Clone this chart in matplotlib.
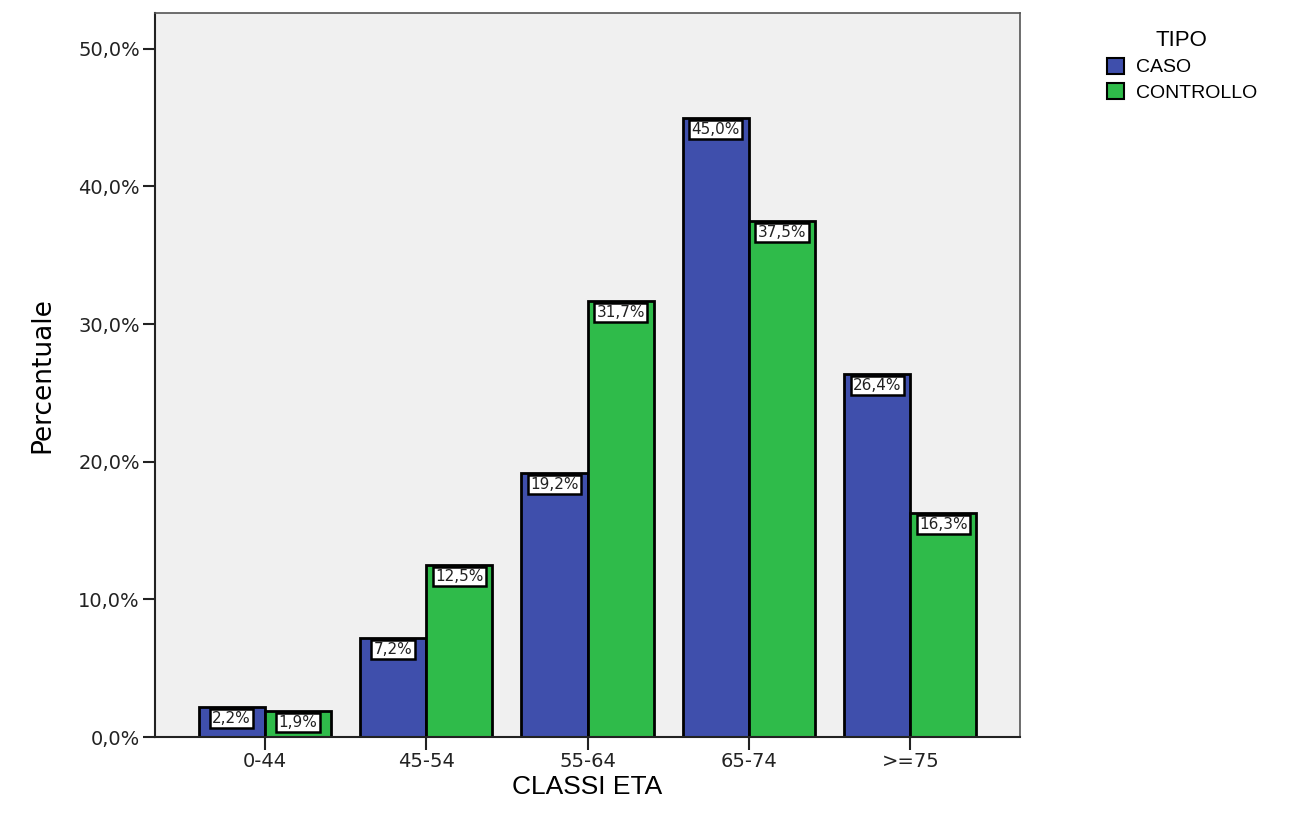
import matplotlib.pyplot as plt
import numpy as np
from matplotlib.patches import Patch

classi = ["0-44", "45-54", "55-64", "65-74", ">=75"]
caso = [2.2, 7.2, 19.2, 45.0, 26.4]
controllo = [1.9, 12.5, 31.7, 37.5, 16.3]
serie = ["CASO", "CONTROLLO"]
yticks = [0, 10, 20, 30, 40, 50]

BLUE = "#3f4fac"
GREEN = "#2fbb4a"


def fmt(v):
    return f"{v:.1f}".replace(".", ",") + "%"


fig = plt.figure(figsize=(12.92, 8.16), dpi=100)
ax = fig.add_axes([0.12, 0.0968, 0.6695, 0.8872])
ax.set_facecolor("#f0f0f0")

x = np.arange(len(classi))
w = 0.41
b1 = ax.bar(x - w / 2, caso, w, color=BLUE, edgecolor="black", linewidth=2)
b2 = ax.bar(x + w / 2, controllo, w, color=GREEN, edgecolor="black", linewidth=2)

for bars, vals in ((b1, caso), (b2, controllo)):
    for rect, v in zip(bars, vals):
        ax.annotate(fmt(v), xy=(rect.get_x() + rect.get_width() / 2, v),
                    xytext=(0, -3), textcoords="offset points",
                    ha="center", va="top", fontsize=11, color="#222222",
                    bbox=dict(boxstyle="square,pad=0.15", fc="white",
                              ec="black", lw=1.8))

ax.set_xlim(-0.68, 4.68)
ax.set_ylim(0, 52.6)
ax.set_xticks(x)
ax.set_xticklabels(classi, fontsize=14, color="#222222")
ax.set_yticks(yticks)
ax.set_yticklabels([fmt(t) for t in yticks], fontsize=14, color="#222222")
ax.tick_params(axis="both", length=9, width=1.5, color="#222222", pad=2)

for s in ("left", "bottom"):
    ax.spines[s].set_linewidth(1.5)
    ax.spines[s].set_color("#222222")
for s in ("top", "right"):
    ax.spines[s].set_linewidth(1.2)
    ax.spines[s].set_color("#555555")

ax.set_ylabel("Percentuale", fontsize=19, family=["Liberation Sans Narrow", "DejaVu Sans"],
              labelpad=16)
ax.set_xlabel("CLASSI ETA", fontsize=19, family=["Liberation Sans", "DejaVu Sans"],
              labelpad=3)

handles = [Patch(facecolor=BLUE, edgecolor="black", lw=1.5),
           Patch(facecolor=GREEN, edgecolor="black", lw=1.5)]
leg = fig.legend(handles, serie, title="TIPO", loc="upper left",
                 bbox_to_anchor=(0.843, 0.985), frameon=False,
                 handlelength=0.9, handleheight=0.9, handletextpad=0.6,
                 labelspacing=0.35, prop={"family": "Liberation Sans", "size": 14},
                 title_fontproperties={"family": "Liberation Sans", "size": 16})

fig.savefig("out.png", dpi=100)
